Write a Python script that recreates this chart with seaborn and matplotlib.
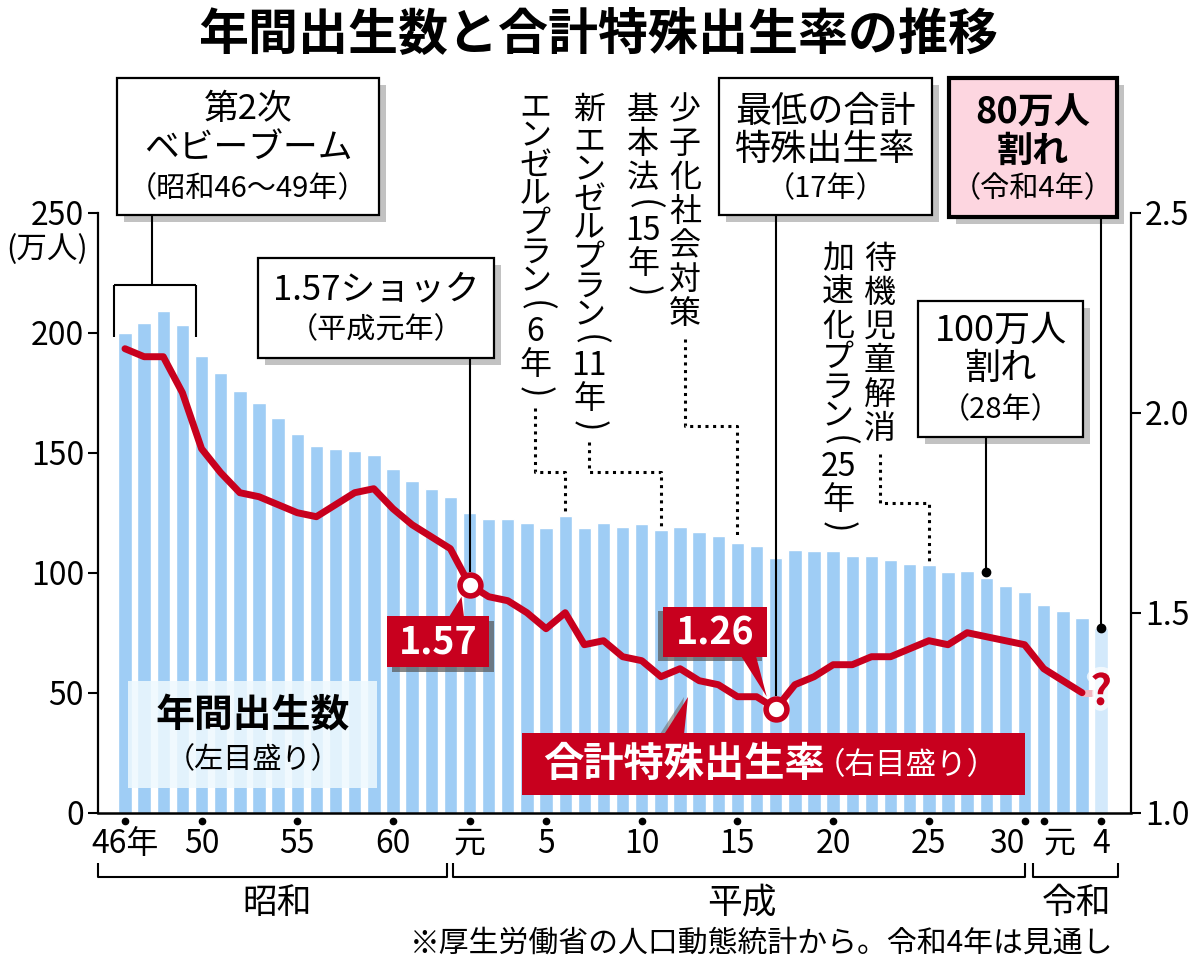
import matplotlib
matplotlib.use("Agg")
import numpy as np
import pandas as pd
import seaborn as sns
import matplotlib.pyplot as plt
from matplotlib.patches import Rectangle, Polygon
from matplotlib.transforms import blended_transform_factory, Affine2D
import matplotlib.patheffects as pe

# ---------------- data ----------------
years = list(range(1971, 2023))
births = [200.0, 203.9, 209.2, 203.0, 190.1, 183.3, 175.5, 170.9, 164.3, 157.7,
          152.9, 151.5, 150.9, 149.0, 143.2, 138.3, 134.7, 131.4, 124.7, 122.2,
          122.3, 120.9, 118.8, 123.8, 118.7, 120.7, 119.2, 120.3, 117.8, 119.1,
          117.1, 115.4, 112.4, 111.1, 106.3, 109.3, 109.0, 109.1, 107.0, 107.1,
          105.1, 103.7, 103.0, 100.4, 100.6, 97.7, 94.6, 91.8, 86.5, 84.1,
          81.2, 77.0]
tfr_years = list(range(1971, 2022))
tfr = [2.16, 2.14, 2.14, 2.05, 1.91, 1.85, 1.80, 1.79, 1.77, 1.75,
       1.74, 1.77, 1.80, 1.81, 1.76, 1.72, 1.69, 1.66, 1.57, 1.54,
       1.53, 1.50, 1.46, 1.50, 1.42, 1.43, 1.39, 1.38, 1.34, 1.36,
       1.33, 1.32, 1.29, 1.29, 1.26, 1.32, 1.34, 1.37, 1.37, 1.39,
       1.39, 1.41, 1.43, 1.42, 1.45, 1.44, 1.43, 1.42, 1.36, 1.33,
       1.30]
tick_years = [1971, 1975, 1980, 1985, 1989, 1993, 1998, 2003, 2008, 2013, 2018, 2019, 2022]
tick_labels = ["46年", "50", "55", "60", "元", "5", "10", "15", "20", "25", "30", "元", "4"]
left_ticks = [0, 50, 100, 150, 200, 250]
right_ticks = [1.0, 1.5, 2.0, 2.5]
right_tick_labels = ["1.0", "1.5", "2.0", "2.5"]
eras = ["昭和", "平成", "令和"]
highlight_years = [1989, 2005]
highlight_labels = ["1.57", "1.26"]
title = "年間出生数と合計特殊出生率の推移"

BLUE = "#9fcdf5"
BLUE_FADE = "#d3e9fb"
RED = "#c8001e"
SHADOW = "#c2c2c2"

sns.set_theme(style="white", rc={"axes.edgecolor": "black", "text.color": "black",
                                 "xtick.color": "black", "ytick.color": "black",
                                 "axes.linewidth": 1.5})
plt.rcParams["font.family"] = ["Noto Sans CJK JP", "DejaVu Sans"]

W, H = 1200, 967
fig = plt.figure(figsize=(12, 9.67), dpi=100)
fig.patch.set_facecolor("white")
ax = fig.add_axes([98 / W, 1 - 812.7 / H, (1131 - 98) / W, (812.7 - 60) / H])

df = pd.DataFrame({"year": years, "births": births})
sns.barplot(data=df, x="year", y="births", native_scale=True, color=BLUE,
            saturation=1, width=0.7, errorbar=None, orient="x", ax=ax, zorder=2)
for p in ax.patches:
    if abs(p.get_x() + p.get_width() / 2 - years[-1]) < 0.3:
        p.set_facecolor(BLUE_FADE)

ax2 = ax.twinx()
sns.lineplot(x=tfr_years, y=tfr, ax=ax2, color=RED, linewidth=5, sort=False, zorder=3)
for ln in ax2.lines:
    ln.set_solid_joinstyle("round")
    ln.set_solid_capstyle("round")
ax2.plot([tfr_years[-1], tfr_years[-1] + 0.6], [tfr[-1], tfr[-1]], color="#f3b7c2",
         lw=5, solid_capstyle="butt", zorder=2)

ax.set_xlim(1969.59, 2023.56)
ax.set_ylim(0, 313.6)
ax2.set_ylim(1.0, 2.8818)
ax.set_xlabel("")
ax.set_ylabel("")
ax2.set_ylabel("")

for s in ["top", "right"]:
    ax.spines[s].set_visible(False)
ax.spines["left"].set_bounds(0, 250)
for s in ["top", "left", "bottom"]:
    ax2.spines[s].set_visible(False)
ax2.spines["right"].set_bounds(1.0, 2.5)
for sp in list(ax.spines.values()) + list(ax2.spines.values()):
    sp.set_linewidth(1.6)
ax.spines["bottom"].set_linewidth(1.8)

ax.set_yticks(left_ticks)
ax.set_yticklabels([str(v) for v in left_ticks])
ax.tick_params(axis="y", left=True, direction="out", length=7, width=1.5,
               labelsize=23, pad=3)
ax2.set_yticks(right_ticks)
ax2.set_yticklabels(right_tick_labels)
ax2.tick_params(axis="y", right=True, direction="out", length=7, width=1.5,
                labelsize=23, pad=3)
ax.set_xticks(tick_years)
ax.set_xticklabels(tick_labels)
ax.tick_params(axis="x", bottom=False, length=0, labelsize=23, pad=11)
xl = ax.get_xticklabels()
xl[10].set_ha("right")
xl[11].set_ha("left")
ax.grid(False)
ax2.grid(False)

# tick dots below the axis
bt = blended_transform_factory(ax.transData, ax.transAxes)
ax.plot(tick_years, [-0.011] * len(tick_years), "o", color="black", ms=4.5,
        transform=bt, clip_on=False, zorder=5)

# highlighted TFR points
hx = [tfr_years.index(y) for y in highlight_years]
ax2.plot(highlight_years, [tfr[i] for i in hx], "o", ms=15, mfc="white", mec=RED,
         mew=4, zorder=6, clip_on=False)

# "?" for the 2022 estimate
ax2.text(years[-1], tfr[-1], "?", color=RED, fontsize=30, fontweight="bold",
         ha="center", va="center", zorder=7,
         path_effects=[pe.withStroke(linewidth=8, foreground=(1, 1, 1, 0.7))])

# dots at connector ends
i16 = years.index(2016)
ax.plot([2016], [births[i16] + 2.6], "o", color="black", ms=6, zorder=6, clip_on=False)
ax.plot([years[-1]], [births[-1]], "o", color="black", ms=6, zorder=6, clip_on=False)

# ---------------- overlay in pixel coords ----------------
ov = fig.add_axes([0, 0, 1, 1])
ov.set_zorder(10)
ov.set_xlim(0, W)
ov.set_ylim(H, 0)
ov.axis("off")
ov.patch.set_alpha(0)


def px(axis, x, y):
    X, Y = axis.transData.transform((x, y))
    return X, H - Y


def box(x0, y0, x1, y1, fc="white", lw=1.6, shadow=7):
    ov.add_patch(Rectangle((x0 + shadow, y0 + shadow), x1 - x0, y1 - y0,
                           fc=SHADOW, ec="none", zorder=1))
    ov.add_patch(Rectangle((x0, y0), x1 - x0, y1 - y0, fc=fc, ec="black",
                           lw=lw, zorder=2))


def t(x, y, s, size=25, weight="normal", color="black", **kw):
    return ov.text(x, y, s, ha=kw.pop("ha", "center"), va="center", fontsize=size,
                   fontweight=weight, color=color, zorder=4, **kw)


def line(xs, ys, ls="-", lw=1.5):
    ov.plot(xs, ys, color="black", lw=lw, ls=ls, zorder=3, solid_capstyle="butt")


def dotted(xs, ys):
    ov.plot(xs, ys, color="black", lw=2.2, ls=(0, (1, 1.5)), zorder=3)


def tokens(s):
    out, buf = [], ""
    for c in s:
        if c.isdigit():
            buf += c
        else:
            if buf:
                out.append(buf)
                buf = ""
            out.append(c)
    if buf:
        out.append(buf)
    return out


def vtext(x, ytop, s, size=23):
    y = ytop
    for tok in tokens(s):
        if tok in "()":
            step = 20
            ov.text(x, y + step / 2, tok, rotation=-90, rotation_mode="default",
                    ha="center", va="center", fontsize=size + 2, zorder=4)
        else:
            if tok.isdigit():
                step = 32
            elif "\u30a0" <= tok <= "\u30ff":
                step = 29
            else:
                step = 34
            ov.text(x, y + step / 2, tok, ha="center", va="center",
                    fontsize=size, zorder=4)
        y += step
    return y


# title
t(598, 35, title, size=36, weight="bold")

# left unit label
t(47, 250, "(万人)", size=22)

# baby boom box
box(117, 78, 379, 215)
t(248, 110, "第2次", 25)
t(248, 149, "ベビーブーム", 25)
t(248, 189, "（昭和46～49年）", 21)
line([152, 152], [215, 285])
line([114, 196], [285, 285])
line([114, 114], [285, 337])
line([196, 196], [285, 337])

# 1.57 shock box
box(258, 258, 494, 358)
t(376, 290, "1.57ショック", 25)
t(376, 330, "（平成元年）", 21)
cx, cy = px(ax2, highlight_years[0], tfr[hx[0]])
line([cx, cx], [358, cy - 13])

# lowest TFR box
box(719, 78, 932, 215)
t(825.5, 112, "最低の合計", 26)
t(825.5, 150, "特殊出生率", 26)
t(825.5, 189, "（17年）", 21)
cx2, cy2 = px(ax2, highlight_years[1], tfr[hx[1]])
line([cx2, cx2], [215, cy2 - 13])

# below-800k box (pink)
box(949, 78, 1117, 217, fc="#fdd6e0", lw=3)
t(1033, 113, "80万人", 26, "bold")
t(1033, 151, "割れ", 26, "bold")
t(1033, 189, "（令和4年）", 21)
bx, by = px(ax, years[-1], births[-1])
line([bx, bx], [217, by])

# below-1M box
box(918, 301, 1083, 437)
t(1000.5, 331, "100万人", 26)
t(1000.5, 369, "割れ", 26)
t(1000.5, 410, "（28年）", 21)
dx, dy = px(ax, 2016, births[i16] + 2.6)
line([dx, dx], [437, dy])

# vertical policy labels with dotted leaders
e1 = vtext(535, 93, "エンゼルプラン(6年)")
e2 = vtext(589, 93, "新エンゼルプラン(11年)")
vtext(643, 93, "基本法(15年)")
e3 = vtext(685, 93, "少子化社会対策")
vtext(838, 242, "加速化プラン(25年)")
e4 = vtext(880, 242, "待機児童解消")

for (colx, ystart, yturn, yr) in [(535, e1 + 6, 472, 1994), (589, e2 + 6, 472, 1999),
                                  (685, e3 + 8, 426, 2003), (880, e4 + 8, 503, 2013)]:
    bxx, byy = px(ax, yr, births[years.index(yr)])
    dotted([colx, colx, bxx, bxx], [ystart, yturn, yturn, byy - 4])

# legend-like label for births
ov.add_patch(Rectangle((128, 681), 249, 107, fc="#eef9fe", ec="none", alpha=0.85, zorder=2))
t(253, 716, "年間出生数", 28, "bold")
t(253, 760, "（左目盛り）", 21)

# red label for TFR
ov.add_patch(Polygon([[664, 734], [684, 734], [688, 697]], closed=True,
                     fc="#6e6e6e", ec="none", zorder=2, alpha=0.6,
                     transform=Affine2D().translate(-4, 0) + ov.transData))
ov.add_patch(Rectangle((522, 733), 503, 62, fc=RED, ec="none", zorder=2))
ov.add_patch(Polygon([[664, 734.5], [684, 734.5], [688, 697]], closed=True,
                     fc=RED, ec="none", zorder=2))
t1 = t(543, 764, "合計特殊出生率", 29, "bold", "white", ha="left")
ov.annotate("（右目盛り）", xy=(1, 0.45), xycoords=t1, xytext=(-7, 0),
            textcoords="offset points", ha="left", va="center",
            fontsize=22, color="white", zorder=4)


def redlabel(x0, y0, x1, y1, text, tri, sdx, sdy):
    ov.add_patch(Rectangle((x0 + sdx, y0 + sdy), x1 - x0, y1 - y0, fc="#555555",
                           ec="none", alpha=0.7, zorder=2))
    ov.add_patch(Polygon(tri, closed=True, fc=RED, ec="none", zorder=2))
    ov.add_patch(Rectangle((x0, y0), x1 - x0, y1 - y0, fc=RED, ec="none", zorder=2))
    t((x0 + x1) / 2, (y0 + y1) / 2 + 1, text, 27, "bold", "white")


redlabel(387, 616, 489, 667, highlight_labels[0],
         [[449, 617], [464, 617], [cx - 8, cy + 12]], 5, 5)
redlabel(663, 607, 767, 657, highlight_labels[1],
         [[741, 656], [756, 656], [cx2 - 9, cy2 - 12]], -5, 4)

# era brackets
for (x0, x1) in [(98, 447), (453, 1025), (1033, 1118)]:
    line([x0, x0, x1, x1], [863, 877, 877, 863], lw=1.5)
t(277, 903, eras[0], 25)
t(742, 903, eras[1], 25)
t(1077, 903, eras[2], 25)

# footnote
t(1113, 943, "※厚生労働省の人口動態統計から。令和4年は見通し", 21.5, ha="right")

fig.savefig("out.png", dpi=100)
